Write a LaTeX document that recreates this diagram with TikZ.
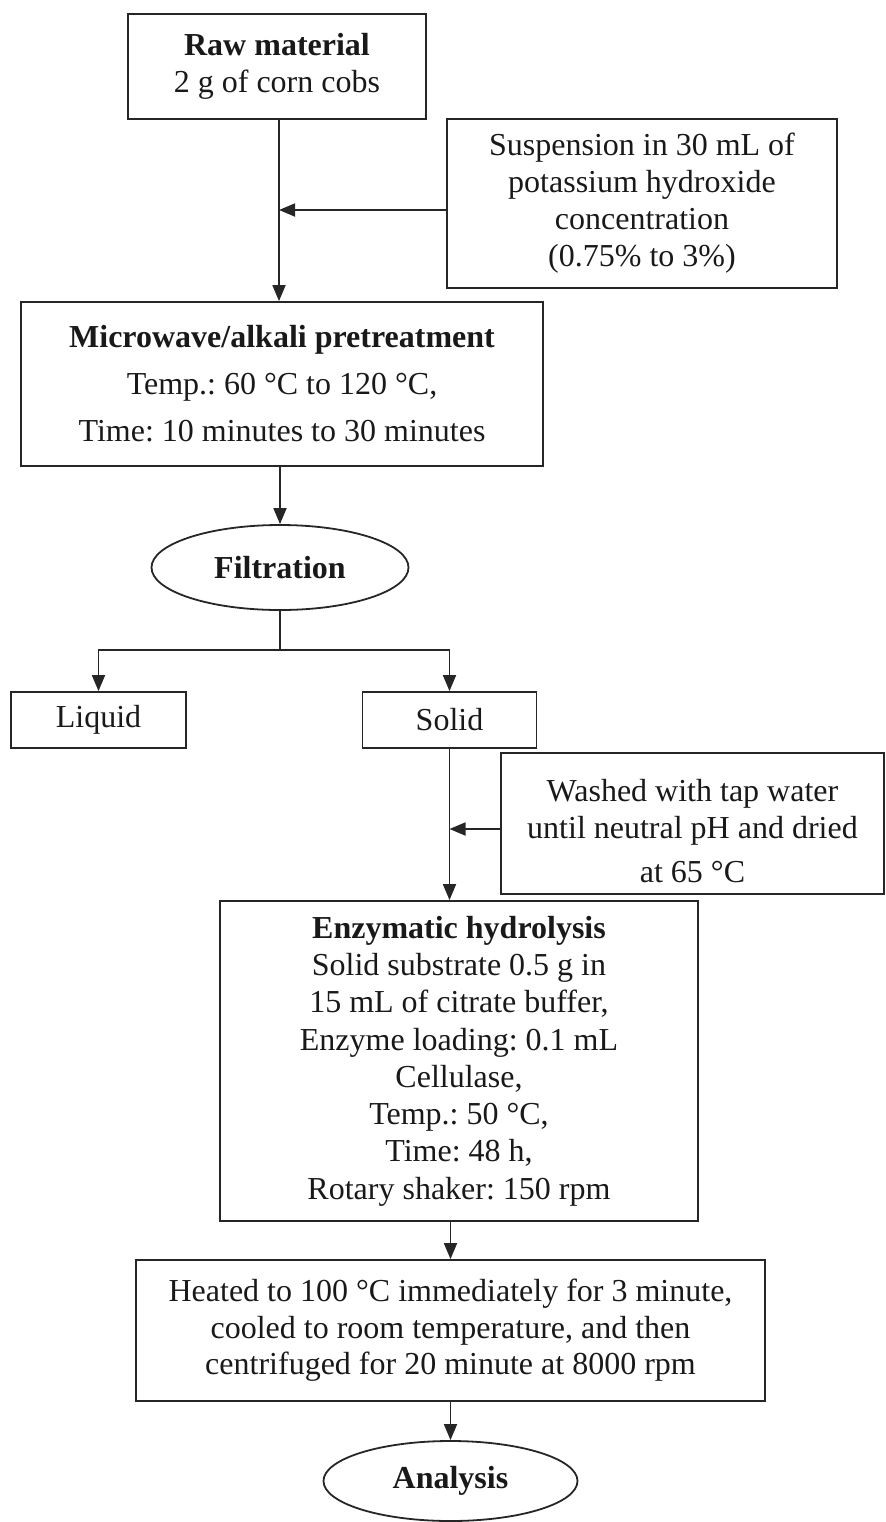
\documentclass[tikz,border=0pt]{standalone}
\usepackage{fontspec}
\setmainfont{Liberation Serif}
\usetikzlibrary{arrows.meta,shapes.geometric}
\frenchspacing
\begin{document}
\begin{tikzpicture}[x=0.5pt,y=-0.5pt,
  line width=0.9pt,
  every node/.style={text=black!90},
  box/.style={draw=black!85, rectangle, inner sep=0pt, align=center, font=\fontsize{16}{18.5}\selectfont},
  oval/.style={draw=black!85, ellipse, inner sep=0pt, font=\fontsize{16}{18.5}\selectfont\bfseries},
  arr/.style={draw=black!85, -{Triangle[length=8pt,width=6.5pt]}},
  link/.style={draw=black!85}]
\useasboundingbox (0,0) rectangle (886,1522);

\node[box, minimum width=149pt, minimum height=52.5pt] (raw) at (277,66.5)
  {\textbf{Raw material}\\2 g of corn cobs};
\node[box, minimum width=195pt, minimum height=84.5pt] (susp) at (642,203.5)
  {Suspension in 30 mL of\\potassium hydroxide\\concentration\\(0.75\% to 3\%)};
\node[box, minimum width=261pt, minimum height=82pt, font=\fontsize{16}{23.5}\selectfont] (mw) at (282,384)
  {\textbf{Microwave/alkali pretreatment}\\Temp.: 60 °C to 120 °C,\\Time: 10 minutes to 30 minutes};
\node[oval, minimum width=128.5pt, minimum height=42.5pt] (filt) at (280,567.5) {Filtration};
\node[box, minimum width=87.5pt, minimum height=28pt] (liquid) at (98.5,720) {Liquid};
\node[box, minimum width=87pt, minimum height=28pt] (solid) at (449.5,720) {Solid};
\node[box, minimum width=191.5pt, minimum height=70.5pt] (washed) at (692.5,823.5)
  {\rule{0pt}{18.5pt}Washed with tap water\\until neutral pH and dried\\[3.5pt]at 65 °C};
\node[box, minimum width=239pt, minimum height=160pt, font=\fontsize{16}{18.65}\selectfont] (enz) at (459,1061)
  {\textbf{Enzymatic hydrolysis}\\Solid substrate 0.5 g in\\15 mL of citrate buffer,\\Enzyme loading: 0.1 mL\\Cellulase,\\Temp.: 50 °C,\\Time: 48 h,\\Rotary shaker: 150 rpm};
\node[box, minimum width=314.5pt, minimum height=70.5pt, font=\fontsize{16}{18.25}\selectfont] (heat) at (450.5,1330.5)
  {Heated to 100 °C immediately for 3 minute,\\cooled to room temperature, and then\\centrifuged for 20 minute at 8000 rpm};
\node[oval, minimum width=127pt, minimum height=40pt] (ana) at (450.5,1481) {Analysis};

\coordinate (j1) at (279,210);
\coordinate (sp) at (280,650);
\coordinate (j2) at (449.5,829);

\draw[arr] (raw.south -| j1) -- (mw.north -| j1);
\draw[arr] (susp.west |- j1) -- (j1);
\draw[arr] (mw.south -| filt.north) -- (filt.north);
\draw[link] (filt.south) -- (sp);
\draw[arr] (sp) -| (liquid.north);
\draw[arr] (sp) -| (solid.north);
\draw[arr] (solid.south) -- (solid.south |- enz.north);
\draw[arr] (washed.west |- j2) -- (j2);
\draw[arr] (enz.south -| heat.north) -- (heat.north);
\draw[arr] (heat.south) -- (ana.north);
\end{tikzpicture}
\end{document}
